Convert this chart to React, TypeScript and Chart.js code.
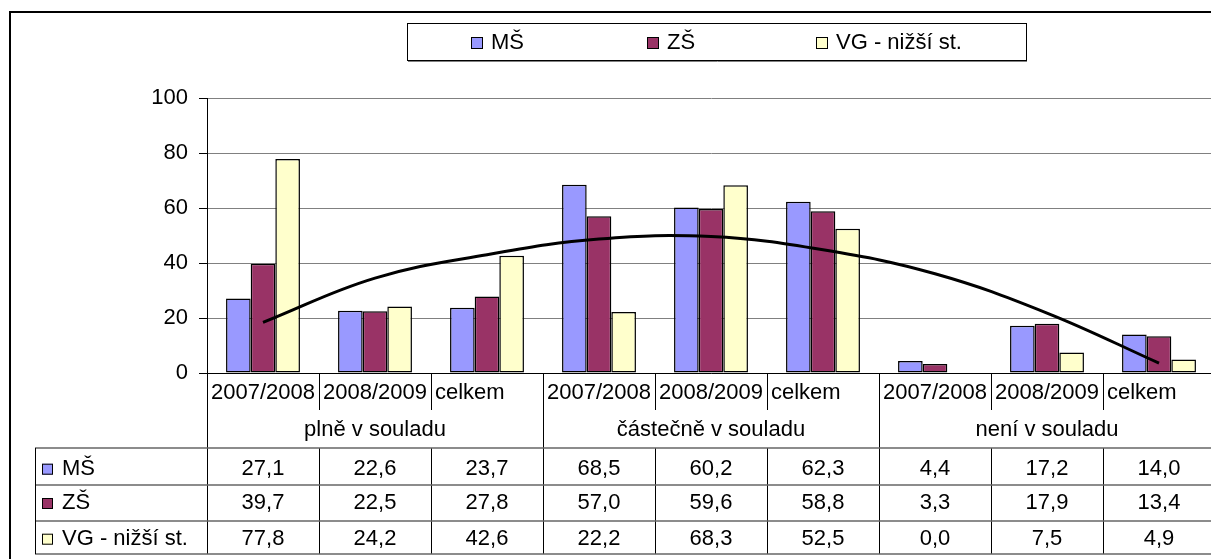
import React, { useEffect, useRef } from "react";
import { Chart, registerables } from "chart.js";

Chart.register(...registerables);

const categories = ["2007/2008", "2008/2009", "celkem", "2007/2008", "2008/2009", "celkem", "2007/2008", "2008/2009", "celkem"];
const groups = ["plně v souladu", "částečně v souladu", "není v souladu"];
const seriesNames = ["MŠ", "ZŠ", "VG - nižší st."];
const msValues = [27.1, 22.6, 23.7, 68.5, 60.2, 62.3, 4.4, 17.2, 14.0];
const zsValues = [39.7, 22.5, 27.8, 57.0, 59.6, 58.8, 3.3, 17.9, 13.4];
const vgValues = [77.8, 24.2, 42.6, 22.2, 68.3, 52.5, 0.0, 7.5, 4.9];
const trendValues = [18.4, 34.5, 43.0, 48.7, 49.6, 44.8, 36.1, 21.8, 3.6];
const yMin = 0;
const yMax = 100;
const yStep = 20;
const colors = ["#9999FF", "#993366", "#FFFFCC"];

const FONT = '22px "Liberation Sans", Arial, sans-serif';
const fmt = (v: number) => v.toFixed(1).replace(".", ",");

const decorPlugin = {
  id: "decor",
  afterDraw(chart: any) {
    const ctx = chart.ctx as CanvasRenderingContext2D;
    const xs = chart.scales.x;
    const ys = chart.scales.y;
    const n = categories.length;
    const cw = (xs.right - xs.left) / n;
    const bx = (i: number) => xs.left + i * cw;
    const y0 = ys.bottom;
    const allValues = [msValues, zsValues, vgValues];

    ctx.save();
    // outer border
    ctx.strokeStyle = "#000";
    ctx.lineWidth = 2;
    ctx.strokeRect(10, 12, 1300, 600);

    // legend
    ctx.lineWidth = 1;
    ctx.strokeStyle = "#000";
    ctx.strokeRect(407.5, 23.5, 619, 37);
    ctx.strokeStyle = "#808080";
    ctx.beginPath();
    ctx.moveTo(408, 61.5);
    ctx.lineTo(1027, 61.5);
    ctx.stroke();
    const legendX = [471, 647, 816];
    ctx.font = FONT;
    ctx.textBaseline = "alphabetic";
    ctx.textAlign = "left";
    seriesNames.forEach((name, i) => {
      ctx.fillStyle = colors[i];
      ctx.fillRect(legendX[i] + 0.5, 37.5, 11, 11);
      ctx.strokeStyle = "#000";
      ctx.lineWidth = 1;
      ctx.strokeRect(legendX[i] + 0.5, 37.5, 11, 11);
      ctx.fillStyle = "#000";
      ctx.fillText(name, legendX[i] + 20, 49);
    });

    // category labels and separators
    ctx.strokeStyle = "#000";
    ctx.lineWidth = 1;
    ctx.fillStyle = "#000";
    categories.forEach((c, i) => {
      ctx.textAlign = "left";
      ctx.fillText(c, bx(i) + 4, y0 + 26);
    });
    for (let i = 0; i <= n; i++) {
      const x = Math.round(bx(i)) + 0.5;
      ctx.beginPath();
      if (i % 3 === 0) {
        ctx.moveTo(x, y0);
        ctx.lineTo(x, y0 + 181);
      } else {
        ctx.moveTo(x, y0);
        ctx.lineTo(x, y0 + 37);
        ctx.moveTo(x, y0 + 75);
        ctx.lineTo(x, y0 + 181);
      }
      ctx.stroke();
    }
    groups.forEach((g, gi) => {
      ctx.textAlign = "center";
      ctx.fillText(g, (bx(gi * 3) + bx(gi * 3 + 3)) / 2, y0 + 63);
    });

    // data table
    const tableLeft = 35;
    const lines = [75, 112.4, 147.7, 181];
    ctx.strokeStyle = "#666";
    ctx.lineWidth = 1.5;
    lines.forEach((dy) => {
      ctx.beginPath();
      ctx.moveTo(tableLeft, Math.round(y0 + dy));
      ctx.lineTo(1300, Math.round(y0 + dy));
      ctx.stroke();
    });
    ctx.strokeStyle = "#000";
    ctx.lineWidth = 1;
    ctx.beginPath();
    ctx.moveTo(tableLeft + 0.5, y0 + 75);
    ctx.lineTo(tableLeft + 0.5, y0 + 181);
    ctx.stroke();

    const baselines = [101.7, 136, 171.7];
    seriesNames.forEach((name, r) => {
      const by = y0 + baselines[r];
      ctx.fillStyle = colors[r];
      ctx.fillRect(42, by - 11, 11, 11);
      ctx.strokeStyle = "#000";
      ctx.lineWidth = 1;
      ctx.strokeRect(42.5, by - 10.5, 10, 10);
      ctx.fillStyle = "#000";
      ctx.textAlign = "left";
      ctx.fillText(name, 62, by);
      ctx.textAlign = "center";
      allValues[r].forEach((v, i) => {
        ctx.fillText(fmt(v), bx(i) + cw / 2, by);
      });
    });
    ctx.restore();
  },
};

export default function App() {
  const ref = useRef<HTMLCanvasElement>(null);
  useEffect(() => {
    if (!ref.current) return;
    const chart = new Chart(ref.current, {
      type: "bar",
      data: {
        labels: categories,
        datasets: [
          {
            type: "line" as const,
            label: "trend",
            data: trendValues,
            borderColor: "#000",
            borderWidth: 3,
            pointRadius: 0,
            tension: 0.4,
            fill: false,
            order: 0,
          },
          ...[msValues, zsValues, vgValues].map((vals, i) => ({
            type: "bar" as const,
            label: seriesNames[i],
            data: vals,
            backgroundColor: colors[i],
            borderColor: "#000",
            borderWidth: 1.5,
            borderSkipped: false,
            categoryPercentage: 0.66,
            barPercentage: 1,
            order: 1,
          })),
        ],
      } as any,
      options: {
        responsive: false,
        animation: false,
        layout: { padding: { left: 0, top: 98, right: 25, bottom: 0 } },
        plugins: { legend: { display: false }, tooltip: { enabled: false } },
        scales: {
          x: {
            ticks: { display: false },
            grid: { display: false },
            border: { display: true, color: "#000", width: 1 },
            afterFit: (s: any) => {
              s.height = 186;
            },
          },
          y: {
            min: yMin,
            max: yMax,
            ticks: {
              stepSize: yStep,
              color: "#000",
              padding: 11,
              font: { family: '"Liberation Sans", Arial, sans-serif', size: 22 },
            },
            grid: { color: "#808080", lineWidth: 1, tickLength: 8, tickColor: "#000" },
            border: { display: true, color: "#000", width: 1 },
            afterFit: (s: any) => {
              s.width = 207;
            },
          },
        },
      } as any,
      plugins: [decorPlugin],
    });
    return () => chart.destroy();
  }, []);
  return (
    <div
      style={{
        position: "fixed",
        left: 0,
        top: 0,
        width: 1211,
        height: 559,
        overflow: "hidden",
        background: "#fff",
      }}
    >
      <canvas ref={ref} width={1240} height={559} style={{ display: "block" }} />
    </div>
  );
}
